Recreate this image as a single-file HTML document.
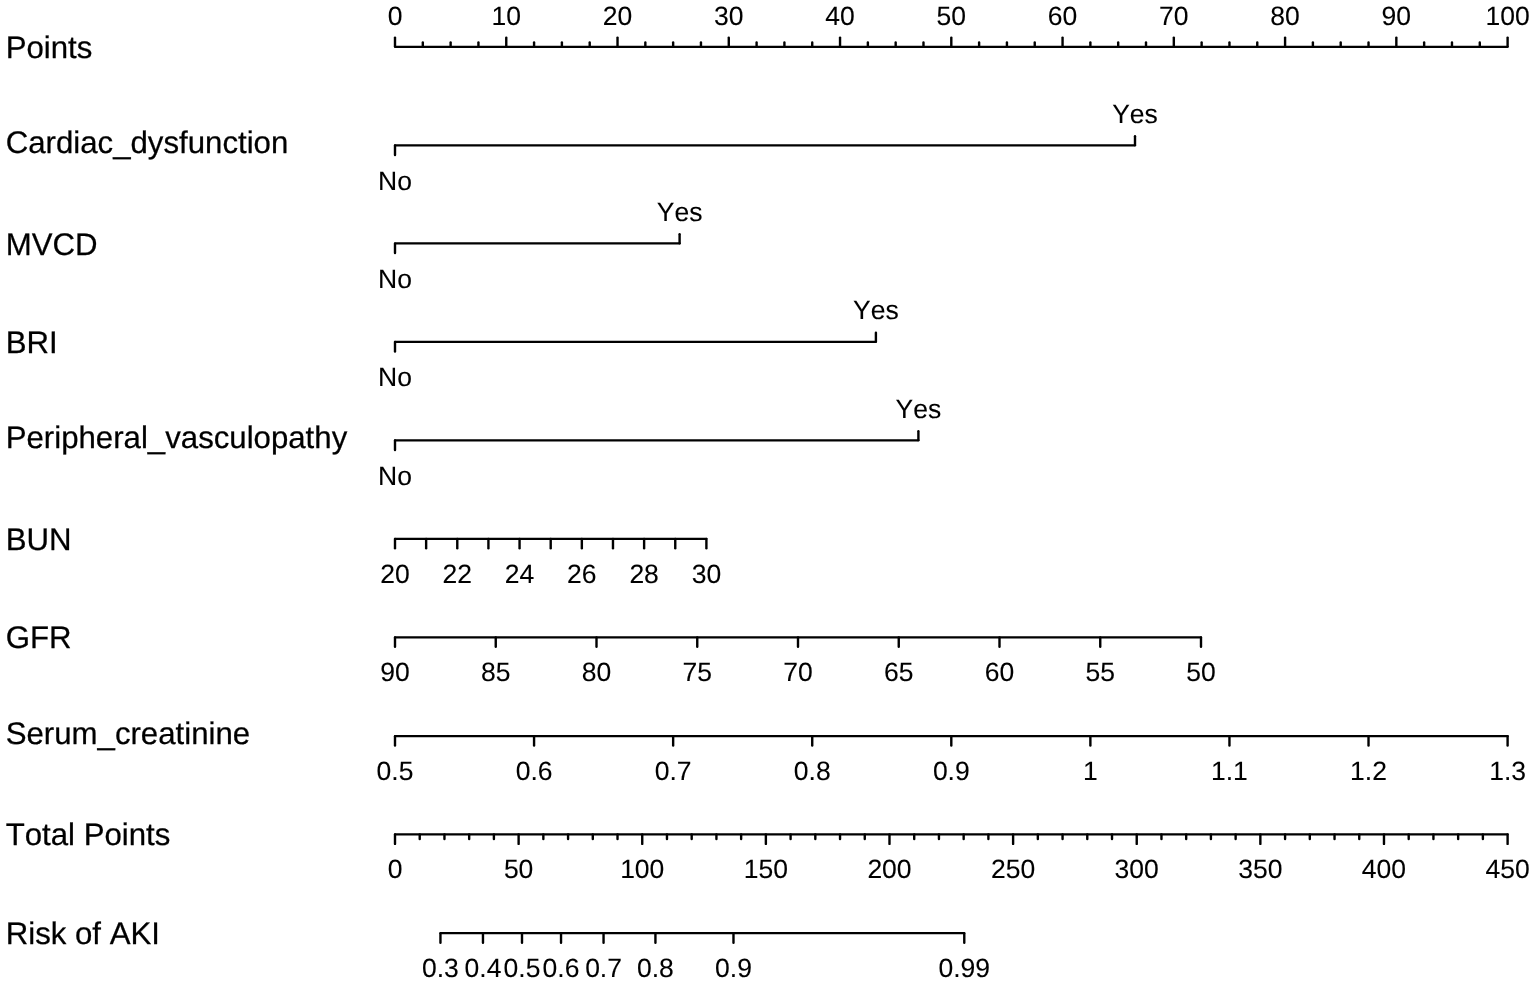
<!DOCTYPE html>
<html lang="en"><head><meta charset="utf-8"><title>Nomogram</title>
<style>
html,body{margin:0;padding:0;background:#fff;}
body{width:1535px;height:983px;overflow:hidden;}
svg{display:block;}
svg text{font-family:"Liberation Sans",sans-serif;fill:#000;font-kerning:none;text-rendering:geometricPrecision;stroke:#000;stroke-width:0.25px;stroke-linejoin:round;}
svg text.a{font-size:26.5px;text-anchor:middle;stroke-width:0.1px;}
svg text.v{font-size:31.2px;text-anchor:start;}
svg line{stroke:#000;stroke-width:2.4;stroke-linecap:round;}
svg line.h{stroke-width:2.25;}
</style></head><body>
<svg role="img" aria-label="Nomogram for risk of AKI" width="1535" height="983" viewBox="0 0 1535 983">
<rect x="0" y="0" width="1535" height="983" fill="#ffffff"/>
<text class="v" x="5.70" y="57.90">Points</text>
<text class="v" x="5.70" y="153.13">Cardiac_dysfunction</text>
<text class="v" x="5.70" y="254.76">MVCD</text>
<text class="v" x="5.70" y="353.19">BRI</text>
<text class="v" x="5.70" y="448.42">Peripheral_vasculopathy</text>
<text class="v" x="5.70" y="550.05">BUN</text>
<text class="v" x="5.70" y="648.48">GFR</text>
<text class="v" x="5.70" y="743.71">Serum_creatinine</text>
<text class="v" x="5.70" y="845.34">Total Points</text>
<text class="v" x="5.70" y="943.77">Risk of AKI</text>
<line class="h" x1="395.00" y1="46.80" x2="1507.60" y2="46.80"/>
<line x1="395.00" y1="46.60" x2="395.00" y2="37.60"/>
<line x1="506.26" y1="46.60" x2="506.26" y2="37.60"/>
<line x1="617.52" y1="46.60" x2="617.52" y2="37.60"/>
<line x1="728.78" y1="46.60" x2="728.78" y2="37.60"/>
<line x1="840.04" y1="46.60" x2="840.04" y2="37.60"/>
<line x1="951.30" y1="46.60" x2="951.30" y2="37.60"/>
<line x1="1062.56" y1="46.60" x2="1062.56" y2="37.60"/>
<line x1="1173.82" y1="46.60" x2="1173.82" y2="37.60"/>
<line x1="1285.08" y1="46.60" x2="1285.08" y2="37.60"/>
<line x1="1396.34" y1="46.60" x2="1396.34" y2="37.60"/>
<line x1="1507.60" y1="46.60" x2="1507.60" y2="37.60"/>
<line x1="422.81" y1="46.60" x2="422.81" y2="42.40"/>
<line x1="450.63" y1="46.60" x2="450.63" y2="42.40"/>
<line x1="478.44" y1="46.60" x2="478.44" y2="42.40"/>
<line x1="534.08" y1="46.60" x2="534.08" y2="42.40"/>
<line x1="561.89" y1="46.60" x2="561.89" y2="42.40"/>
<line x1="589.70" y1="46.60" x2="589.70" y2="42.40"/>
<line x1="645.34" y1="46.60" x2="645.34" y2="42.40"/>
<line x1="673.15" y1="46.60" x2="673.15" y2="42.40"/>
<line x1="700.96" y1="46.60" x2="700.96" y2="42.40"/>
<line x1="756.60" y1="46.60" x2="756.60" y2="42.40"/>
<line x1="784.41" y1="46.60" x2="784.41" y2="42.40"/>
<line x1="812.23" y1="46.60" x2="812.23" y2="42.40"/>
<line x1="867.86" y1="46.60" x2="867.86" y2="42.40"/>
<line x1="895.67" y1="46.60" x2="895.67" y2="42.40"/>
<line x1="923.48" y1="46.60" x2="923.48" y2="42.40"/>
<line x1="979.12" y1="46.60" x2="979.12" y2="42.40"/>
<line x1="1006.93" y1="46.60" x2="1006.93" y2="42.40"/>
<line x1="1034.74" y1="46.60" x2="1034.74" y2="42.40"/>
<line x1="1090.38" y1="46.60" x2="1090.38" y2="42.40"/>
<line x1="1118.19" y1="46.60" x2="1118.19" y2="42.40"/>
<line x1="1146.00" y1="46.60" x2="1146.00" y2="42.40"/>
<line x1="1201.63" y1="46.60" x2="1201.63" y2="42.40"/>
<line x1="1229.45" y1="46.60" x2="1229.45" y2="42.40"/>
<line x1="1257.26" y1="46.60" x2="1257.26" y2="42.40"/>
<line x1="1312.89" y1="46.60" x2="1312.89" y2="42.40"/>
<line x1="1340.71" y1="46.60" x2="1340.71" y2="42.40"/>
<line x1="1368.53" y1="46.60" x2="1368.53" y2="42.40"/>
<line x1="1424.15" y1="46.60" x2="1424.15" y2="42.40"/>
<line x1="1451.97" y1="46.60" x2="1451.97" y2="42.40"/>
<line x1="1479.79" y1="46.60" x2="1479.79" y2="42.40"/>
<text class="a" x="395.00" y="24.80">0</text>
<text class="a" x="506.26" y="24.80">10</text>
<text class="a" x="617.52" y="24.80">20</text>
<text class="a" x="728.78" y="24.80">30</text>
<text class="a" x="840.04" y="24.80">40</text>
<text class="a" x="951.30" y="24.80">50</text>
<text class="a" x="1062.56" y="24.80">60</text>
<text class="a" x="1173.82" y="24.80">70</text>
<text class="a" x="1285.08" y="24.80">80</text>
<text class="a" x="1396.34" y="24.80">90</text>
<text class="a" x="1507.60" y="24.80">100</text>
<line class="h" x1="395.00" y1="145.35" x2="1135.00" y2="145.35"/>
<line x1="395.00" y1="145.55" x2="395.00" y2="154.95"/>
<line x1="1135.00" y1="145.15" x2="1135.00" y2="136.15"/>
<text class="a" x="395.00" y="189.50">No</text>
<text class="a" x="1135.00" y="123.00">Yes</text>
<line class="h" x1="395.00" y1="243.45" x2="679.60" y2="243.45"/>
<line x1="395.00" y1="243.65" x2="395.00" y2="253.05"/>
<line x1="679.60" y1="243.25" x2="679.60" y2="234.25"/>
<text class="a" x="395.00" y="287.88">No</text>
<text class="a" x="679.60" y="221.20">Yes</text>
<line class="h" x1="395.00" y1="341.85" x2="875.90" y2="341.85"/>
<line x1="395.00" y1="342.05" x2="395.00" y2="351.45"/>
<line x1="875.90" y1="341.65" x2="875.90" y2="332.65"/>
<text class="a" x="395.00" y="386.25">No</text>
<text class="a" x="875.90" y="319.40">Yes</text>
<line class="h" x1="395.00" y1="440.35" x2="918.40" y2="440.35"/>
<line x1="395.00" y1="440.55" x2="395.00" y2="449.95"/>
<line x1="918.40" y1="440.15" x2="918.40" y2="431.15"/>
<text class="a" x="395.00" y="484.62">No</text>
<text class="a" x="918.40" y="417.60">Yes</text>
<line class="h" x1="395.00" y1="538.75" x2="706.40" y2="538.75"/>
<line x1="395.00" y1="538.95" x2="395.00" y2="548.35"/>
<line x1="426.14" y1="538.95" x2="426.14" y2="548.35"/>
<line x1="457.28" y1="538.95" x2="457.28" y2="548.35"/>
<line x1="488.42" y1="538.95" x2="488.42" y2="548.35"/>
<line x1="519.56" y1="538.95" x2="519.56" y2="548.35"/>
<line x1="550.70" y1="538.95" x2="550.70" y2="548.35"/>
<line x1="581.84" y1="538.95" x2="581.84" y2="548.35"/>
<line x1="612.98" y1="538.95" x2="612.98" y2="548.35"/>
<line x1="644.12" y1="538.95" x2="644.12" y2="548.35"/>
<line x1="675.26" y1="538.95" x2="675.26" y2="548.35"/>
<line x1="706.40" y1="538.95" x2="706.40" y2="548.35"/>
<text class="a" x="395.00" y="583.00">20</text>
<text class="a" x="457.28" y="583.00">22</text>
<text class="a" x="519.56" y="583.00">24</text>
<text class="a" x="581.84" y="583.00">26</text>
<text class="a" x="644.12" y="583.00">28</text>
<text class="a" x="706.40" y="583.00">30</text>
<line class="h" x1="395.00" y1="637.25" x2="1201.00" y2="637.25"/>
<line x1="395.00" y1="637.45" x2="395.00" y2="646.85"/>
<line x1="495.75" y1="637.45" x2="495.75" y2="646.85"/>
<line x1="596.50" y1="637.45" x2="596.50" y2="646.85"/>
<line x1="697.25" y1="637.45" x2="697.25" y2="646.85"/>
<line x1="798.00" y1="637.45" x2="798.00" y2="646.85"/>
<line x1="898.75" y1="637.45" x2="898.75" y2="646.85"/>
<line x1="999.50" y1="637.45" x2="999.50" y2="646.85"/>
<line x1="1100.25" y1="637.45" x2="1100.25" y2="646.85"/>
<line x1="1201.00" y1="637.45" x2="1201.00" y2="646.85"/>
<text class="a" x="395.00" y="681.38">90</text>
<text class="a" x="495.75" y="681.38">85</text>
<text class="a" x="596.50" y="681.38">80</text>
<text class="a" x="697.25" y="681.38">75</text>
<text class="a" x="798.00" y="681.38">70</text>
<text class="a" x="898.75" y="681.38">65</text>
<text class="a" x="999.50" y="681.38">60</text>
<text class="a" x="1100.25" y="681.38">55</text>
<text class="a" x="1201.00" y="681.38">50</text>
<line class="h" x1="395.00" y1="736.00" x2="1507.60" y2="736.00"/>
<line x1="395.00" y1="736.20" x2="395.00" y2="745.60"/>
<line x1="534.07" y1="736.20" x2="534.07" y2="745.60"/>
<line x1="673.15" y1="736.20" x2="673.15" y2="745.60"/>
<line x1="812.23" y1="736.20" x2="812.23" y2="745.60"/>
<line x1="951.30" y1="736.20" x2="951.30" y2="745.60"/>
<line x1="1090.38" y1="736.20" x2="1090.38" y2="745.60"/>
<line x1="1229.45" y1="736.20" x2="1229.45" y2="745.60"/>
<line x1="1368.52" y1="736.20" x2="1368.52" y2="745.60"/>
<line x1="1507.60" y1="736.20" x2="1507.60" y2="745.60"/>
<text class="a" x="395.00" y="779.75">0.5</text>
<text class="a" x="534.07" y="779.75">0.6</text>
<text class="a" x="673.15" y="779.75">0.7</text>
<text class="a" x="812.23" y="779.75">0.8</text>
<text class="a" x="951.30" y="779.75">0.9</text>
<text class="a" x="1090.38" y="779.75">1</text>
<text class="a" x="1229.45" y="779.75">1.1</text>
<text class="a" x="1368.52" y="779.75">1.2</text>
<text class="a" x="1507.60" y="779.75">1.3</text>
<line class="h" x1="395.00" y1="834.30" x2="1507.60" y2="834.30"/>
<line x1="395.00" y1="834.50" x2="395.00" y2="843.90"/>
<line x1="518.62" y1="834.50" x2="518.62" y2="843.90"/>
<line x1="642.24" y1="834.50" x2="642.24" y2="843.90"/>
<line x1="765.87" y1="834.50" x2="765.87" y2="843.90"/>
<line x1="889.49" y1="834.50" x2="889.49" y2="843.90"/>
<line x1="1013.11" y1="834.50" x2="1013.11" y2="843.90"/>
<line x1="1136.73" y1="834.50" x2="1136.73" y2="843.90"/>
<line x1="1260.36" y1="834.50" x2="1260.36" y2="843.90"/>
<line x1="1383.98" y1="834.50" x2="1383.98" y2="843.90"/>
<line x1="1507.60" y1="834.50" x2="1507.60" y2="843.90"/>
<line x1="419.72" y1="834.50" x2="419.72" y2="839.00"/>
<line x1="444.45" y1="834.50" x2="444.45" y2="839.00"/>
<line x1="469.17" y1="834.50" x2="469.17" y2="839.00"/>
<line x1="493.90" y1="834.50" x2="493.90" y2="839.00"/>
<line x1="543.35" y1="834.50" x2="543.35" y2="839.00"/>
<line x1="568.07" y1="834.50" x2="568.07" y2="839.00"/>
<line x1="592.80" y1="834.50" x2="592.80" y2="839.00"/>
<line x1="617.52" y1="834.50" x2="617.52" y2="839.00"/>
<line x1="666.97" y1="834.50" x2="666.97" y2="839.00"/>
<line x1="691.69" y1="834.50" x2="691.69" y2="839.00"/>
<line x1="716.42" y1="834.50" x2="716.42" y2="839.00"/>
<line x1="741.14" y1="834.50" x2="741.14" y2="839.00"/>
<line x1="790.59" y1="834.50" x2="790.59" y2="839.00"/>
<line x1="815.32" y1="834.50" x2="815.32" y2="839.00"/>
<line x1="840.04" y1="834.50" x2="840.04" y2="839.00"/>
<line x1="864.76" y1="834.50" x2="864.76" y2="839.00"/>
<line x1="914.21" y1="834.50" x2="914.21" y2="839.00"/>
<line x1="938.94" y1="834.50" x2="938.94" y2="839.00"/>
<line x1="963.66" y1="834.50" x2="963.66" y2="839.00"/>
<line x1="988.39" y1="834.50" x2="988.39" y2="839.00"/>
<line x1="1037.84" y1="834.50" x2="1037.84" y2="839.00"/>
<line x1="1062.56" y1="834.50" x2="1062.56" y2="839.00"/>
<line x1="1087.28" y1="834.50" x2="1087.28" y2="839.00"/>
<line x1="1112.01" y1="834.50" x2="1112.01" y2="839.00"/>
<line x1="1161.46" y1="834.50" x2="1161.46" y2="839.00"/>
<line x1="1186.18" y1="834.50" x2="1186.18" y2="839.00"/>
<line x1="1210.91" y1="834.50" x2="1210.91" y2="839.00"/>
<line x1="1235.63" y1="834.50" x2="1235.63" y2="839.00"/>
<line x1="1285.08" y1="834.50" x2="1285.08" y2="839.00"/>
<line x1="1309.80" y1="834.50" x2="1309.80" y2="839.00"/>
<line x1="1334.53" y1="834.50" x2="1334.53" y2="839.00"/>
<line x1="1359.25" y1="834.50" x2="1359.25" y2="839.00"/>
<line x1="1408.70" y1="834.50" x2="1408.70" y2="839.00"/>
<line x1="1433.43" y1="834.50" x2="1433.43" y2="839.00"/>
<line x1="1458.15" y1="834.50" x2="1458.15" y2="839.00"/>
<line x1="1482.88" y1="834.50" x2="1482.88" y2="839.00"/>
<text class="a" x="395.00" y="878.12">0</text>
<text class="a" x="518.62" y="878.12">50</text>
<text class="a" x="642.24" y="878.12">100</text>
<text class="a" x="765.87" y="878.12">150</text>
<text class="a" x="889.49" y="878.12">200</text>
<text class="a" x="1013.11" y="878.12">250</text>
<text class="a" x="1136.73" y="878.12">300</text>
<text class="a" x="1260.36" y="878.12">350</text>
<text class="a" x="1383.98" y="878.12">400</text>
<text class="a" x="1507.60" y="878.12">450</text>
<line class="h" x1="440.45" y1="933.20" x2="964.28" y2="933.20"/>
<line x1="440.45" y1="933.40" x2="440.45" y2="942.80"/>
<line x1="482.97" y1="933.40" x2="482.97" y2="942.80"/>
<line x1="522.00" y1="933.40" x2="522.00" y2="942.80"/>
<line x1="561.03" y1="933.40" x2="561.03" y2="942.80"/>
<line x1="603.55" y1="933.40" x2="603.55" y2="942.80"/>
<line x1="655.43" y1="933.40" x2="655.43" y2="942.80"/>
<line x1="733.48" y1="933.40" x2="733.48" y2="942.80"/>
<line x1="964.28" y1="933.40" x2="964.28" y2="942.80"/>
<text class="a" x="440.45" y="976.50">0.3</text>
<text class="a" x="482.97" y="976.50">0.4</text>
<text class="a" x="522.00" y="976.50">0.5</text>
<text class="a" x="561.03" y="976.50">0.6</text>
<text class="a" x="603.55" y="976.50">0.7</text>
<text class="a" x="655.43" y="976.50">0.8</text>
<text class="a" x="733.48" y="976.50">0.9</text>
<text class="a" x="964.28" y="976.50">0.99</text>
</svg>
</body></html>
